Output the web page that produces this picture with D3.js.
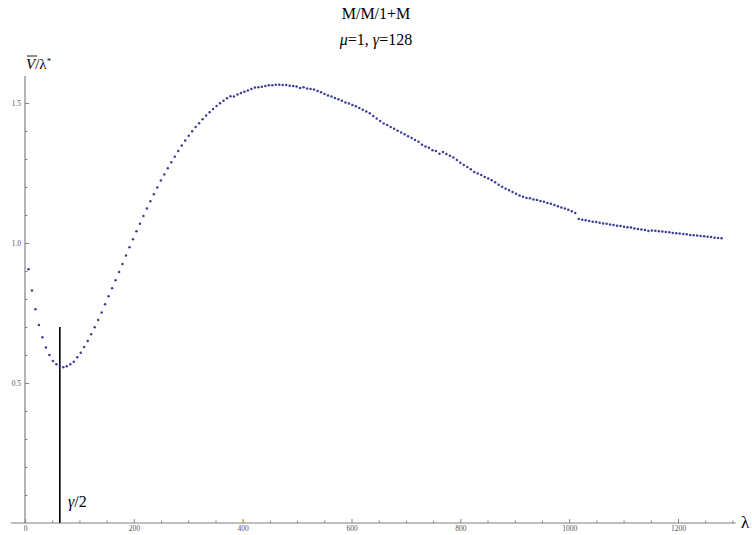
<!DOCTYPE html>
<html>
<head>
<meta charset="utf-8">
<script src="https://cdn.jsdelivr.net/npm/d3@7"></script>
<style>
  body { margin: 0; background: #fff; }
  svg text { font-family: "Liberation Serif", serif; }
</style>
</head>
<body>
<div id="chart"></div>
<script>
// sampled arrival rates: lambda = 6.4 * k, k = 1..200
const lambdaStep = 6.4;
const lambdas = d3.range(1, 201).map((k) => k * lambdaStep);

// V-bar / lambda*
const ratio = [
  0.906, 0.830, 0.763, 0.707, 0.663, 0.627, 0.600, 0.579, 0.567, 0.561,
  0.556, 0.560, 0.567, 0.576, 0.592, 0.608, 0.629, 0.650, 0.674, 0.699,
  0.725, 0.752, 0.781, 0.810, 0.838, 0.867, 0.896, 0.925, 0.955, 0.985,
  1.013, 1.042, 1.069, 1.096, 1.123, 1.149, 1.174, 1.198, 1.223, 1.245,
  1.267, 1.288, 1.308, 1.329, 1.348, 1.366, 1.383, 1.399, 1.414, 1.428,
  1.442, 1.455, 1.467, 1.479, 1.489, 1.499, 1.508, 1.517, 1.524, 1.523,
  1.530, 1.536, 1.540, 1.545, 1.550, 1.555, 1.556, 1.558, 1.561, 1.563,
  1.563, 1.565, 1.565, 1.564, 1.564, 1.562, 1.561, 1.559, 1.554, 1.556,
  1.552, 1.550, 1.548, 1.543, 1.538, 1.532, 1.527, 1.523, 1.518, 1.513,
  1.508, 1.502, 1.498, 1.493, 1.488, 1.482, 1.476, 1.470, 1.463, 1.454,
  1.445, 1.436, 1.427, 1.421, 1.414, 1.408, 1.401, 1.395, 1.388, 1.381,
  1.375, 1.368, 1.362, 1.351, 1.345, 1.340, 1.331, 1.329, 1.319, 1.325,
  1.318, 1.312, 1.305, 1.296, 1.287, 1.279, 1.271, 1.263, 1.254, 1.248,
  1.243, 1.236, 1.230, 1.224, 1.217, 1.208, 1.201, 1.194, 1.188, 1.182,
  1.176, 1.170, 1.165, 1.161, 1.160, 1.155, 1.154, 1.150, 1.147, 1.143,
  1.140, 1.136, 1.131, 1.127, 1.123, 1.119, 1.113, 1.107, 1.086, 1.083,
  1.081, 1.079, 1.076, 1.075, 1.072, 1.070, 1.069, 1.066, 1.064, 1.062,
  1.061, 1.058, 1.056, 1.055, 1.052, 1.050, 1.048, 1.046, 1.043, 1.045,
  1.044, 1.042, 1.041, 1.039, 1.038, 1.036, 1.035, 1.034, 1.032, 1.031,
  1.029, 1.028, 1.027, 1.025, 1.024, 1.022, 1.021, 1.019, 1.018, 1.017
];

// gamma/2 marker line
const halfGamma = 64;
const markerTop = 0.7;

// ticks
const xMajor = [0, 200, 400, 600, 800, 1000, 1200];
const xMinor = [50, 100, 150, 250, 300, 350, 450, 500, 550, 650, 700, 750,
  850, 900, 950, 1050, 1100, 1150, 1250, 1300];
const yMajor = [0.5, 1.0, 1.5];
const yMinor = [0.1, 0.2, 0.3, 0.4, 0.6, 0.7, 0.8, 0.9, 1.1, 1.2, 1.3, 1.4];

const width = 752, height = 535;
const serif = "Liberation Serif";

const svg = d3.select("#chart").append("svg")
  .attr("width", width)
  .attr("height", height);

const x = d3.scaleLinear().domain([0, 1200]).range([25, 678]);
const y = d3.scaleLinear().domain([0, 1.5]).range([523, 103]);

const axisColor = "#808080";

// minor ticks
svg.append("g")
  .attr("transform", `translate(0,${y(0)})`)
  .call(d3.axisBottom(x).tickValues(xMinor).tickSize(-2.5).tickFormat(""))
  .call((g) => g.select(".domain").remove())
  .call((g) => g.selectAll("line").attr("stroke", axisColor));

svg.append("g")
  .attr("transform", `translate(${x(0)},0)`)
  .call(d3.axisLeft(y).tickValues(yMinor).tickSize(-2.5).tickFormat(""))
  .call((g) => g.select(".domain").remove())
  .call((g) => g.selectAll("line").attr("stroke", axisColor));

// major ticks and labels
svg.append("g")
  .attr("transform", `translate(0,${y(0)})`)
  .call(d3.axisBottom(x).tickValues(xMajor).tickSize(-4).tickPadding(3).tickFormat(d3.format("d")))
  .call((g) => g.attr("font-family", serif).attr("font-size", 7.5))
  .call((g) => g.select(".domain").remove())
  .call((g) => g.selectAll("line").attr("stroke", axisColor))
  .call((g) => g.selectAll("text").attr("fill", "#555"));

svg.append("g")
  .attr("transform", `translate(${x(0)},0)`)
  .call(d3.axisLeft(y).tickValues(yMajor).tickSize(-4).tickPadding(4).tickFormat(d3.format(".1f")))
  .call((g) => g.attr("font-family", serif).attr("font-size", 7.5))
  .call((g) => g.select(".domain").remove())
  .call((g) => g.selectAll("line").attr("stroke", axisColor))
  .call((g) => g.selectAll("text").attr("fill", "#555"));

// axis lines
svg.append("line")
  .attr("x1", x(-26)).attr("x2", x(1306))
  .attr("y1", y(0)).attr("y2", y(0))
  .attr("stroke", axisColor).attr("stroke-width", 1.2);

svg.append("line")
  .attr("x1", x(0)).attr("x2", x(0))
  .attr("y1", y(0)).attr("y2", y(1.596))
  .attr("stroke", axisColor).attr("stroke-width", 1.2);

// gamma/2 line
svg.append("line")
  .attr("x1", x(halfGamma)).attr("x2", x(halfGamma))
  .attr("y1", y(0)).attr("y2", y(markerTop))
  .attr("stroke", "#000").attr("stroke-width", 1.6);

// points
svg.append("g")
  .selectAll("circle")
  .data(lambdas.map((l, i) => ({ l: l, v: ratio[i] })))
  .enter()
  .append("circle")
  .attr("cx", (d) => x(d.l))
  .attr("cy", (d) => y(d.v))
  .attr("r", 1.25)
  .attr("fill", "rgb(61,61,153)");

// titles
svg.append("text")
  .attr("x", 376).attr("y", 19)
  .attr("text-anchor", "middle")
  .style("font-size", "16px")
  .text("M/M/1+M");

const sub = svg.append("text")
  .attr("x", 376).attr("y", 45)
  .attr("text-anchor", "middle")
  .style("font-size", "16px");
sub.append("tspan").style("font-style", "italic").text("μ");
sub.append("tspan").text("=1, ");
sub.append("tspan").style("font-style", "italic").text("γ");
sub.append("tspan").text("=128");

// y label
const yl = svg.append("text")
  .attr("x", 26).attr("y", 69)
  .style("font-size", "15px");
yl.append("tspan").style("font-style", "italic").text("V");
yl.append("tspan").text("/λ");
yl.append("tspan").attr("dy", -5).style("font-size", "9px").text("*");
svg.append("line")
  .attr("x1", 27).attr("x2", 37)
  .attr("y1", 56).attr("y2", 56)
  .attr("stroke", "#000").attr("stroke-width", 0.9);

// x label
svg.append("text")
  .attr("x", 741).attr("y", 528)
  .style("font-size", "17px")
  .text("λ");

// gamma/2 label
const gl = svg.append("text")
  .attr("x", 68).attr("y", 507)
  .style("font-size", "16px");
gl.append("tspan").style("font-style", "italic").text("γ");
gl.append("tspan").text("/2");
</script>
</body>
</html>
